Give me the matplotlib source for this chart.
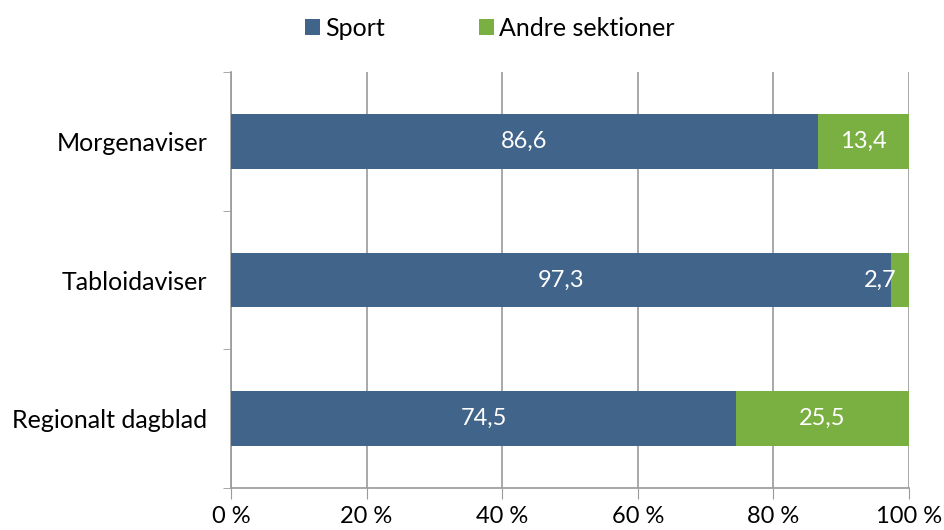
import numpy as np
import matplotlib.pyplot as plt

categories = ["Morgenaviser", "Tabloidaviser", "Regionalt dagblad"]
sport = [86.6, 97.3, 74.5]
andre = [13.4, 2.7, 25.5]
series_names = ["Sport", "Andre sektioner"]
xticks = [0, 20, 40, 60, 80, 100]

plt.rcParams['font.family'] = ['Lato', 'DejaVu Sans']

blue = "#41648A"
green = "#7AB042"
grid_c = "#9A9A9A"

fig = plt.figure(figsize=(9.44, 5.3), dpi=100)
ax = fig.add_axes([0.2447, 0.0792, 0.7183, 0.7849])

y = np.arange(len(categories))
h = 0.395
b1 = ax.barh(y, sport, h, color=blue, label=series_names[0], zorder=3)
b2 = ax.barh(y, andre, h, left=sport, color=green, label=series_names[1], zorder=3)

fmt = lambda v: f"{v:.1f}".replace(".", ",")
ax.bar_label(b1, labels=[fmt(v) for v in sport], label_type="center",
             color="white", fontsize=17)
# narrow segments get their label pulled left, like the original
wide = [fmt(v) if v > 5 else "" for v in andre]
ax.bar_label(b2, labels=wide, label_type="center", color="white", fontsize=17)
for yi, s, a in zip(y, sport, andre):
    if a <= 5:
        ax.annotate(fmt(a), (s + a, yi), xytext=(-9, 0), textcoords="offset points",
                    ha="right", va="center", color="white", fontsize=17, zorder=4)

ax.set_ylim(2.5, -0.5)
ax.set_xlim(0, 100)
ax.set_yticks(y)
ax.set_yticklabels(categories, fontsize=18)
ax.set_yticks([-0.5, 0.5, 1.5, 2.5], minor=True)
ax.tick_params(axis="y", which="major", length=0, pad=17)
ax.tick_params(axis="y", which="minor", length=6, color=grid_c, direction="out")

ax.set_xticks(xticks)
ax.set_xticklabels([f"{t} %" for t in xticks], fontsize=17)
ax.tick_params(axis="x", length=8, color=grid_c, direction="out", pad=5)
ax.xaxis.grid(True, color=grid_c, linewidth=1.2, zorder=0)

for s in ["top", "right"]:
    ax.spines[s].set_visible(False)
for s in ["left", "bottom"]:
    ax.spines[s].set_color(grid_c)
    ax.spines[s].set_linewidth(1.2)

fig.legend(handles=[b1, b2], loc="center", bbox_to_anchor=(0.519, 0.947), ncol=2,
           frameon=False, fontsize=18, handlelength=0.6, handleheight=0.6,
           handletextpad=0.2, columnspacing=3.75)

plt.savefig("out.png", dpi=100)
plt.close()
